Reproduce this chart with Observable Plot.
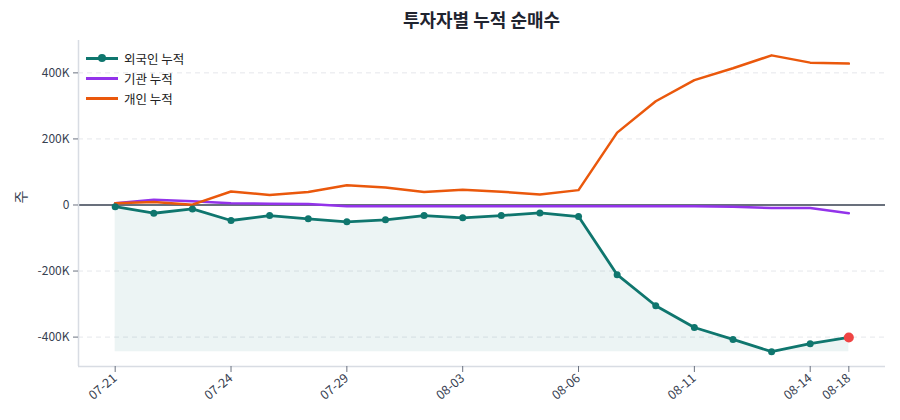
<!DOCTYPE html>
<html><head><meta charset="utf-8">
<script src="https://cdn.jsdelivr.net/npm/d3@7"></script>
<script src="https://cdn.jsdelivr.net/npm/@observablehq/plot@0.6"></script>
<style>
body{margin:0;background:#fff;font-family:"Noto Sans CJK KR","Noto Sans",sans-serif;}
#wrap{position:relative;width:900px;height:420px;}
#title{position:absolute;left:78px;width:807px;top:6px;text-align:center;font-size:18px;font-weight:700;color:#1f2430;}
#chart{position:absolute;left:0;top:40px;}
#legend{position:absolute;left:86px;top:48px;font-size:12.5px;color:#222;}
.row{display:flex;align-items:center;height:20px;}
.sw{position:relative;width:32px;height:3px;margin-right:6px;}
.sw i{position:absolute;left:12px;top:-2.5px;width:8px;height:8px;border-radius:50%;}
</style></head>
<body><div id="wrap"><div id="title">투자자별 누적 순매수</div><div id="chart"></div><div id="legend"></div></div>
<script>
const dates = ["07-21","07-22","07-23","07-24","07-25","07-28","07-29","07-30","07-31","08-03","08-04","08-05","08-06","08-07","08-08","08-11","08-12","08-13","08-14","08-18"];
const foreign = [-5,-25,-12,-47,-32,-42,-51,-45,-32,-39,-32,-24,-35,-211,-305,-371,-407,-444,-420,-401];
const institution = [5,16,11,5,4,3,-4,-4,-4,-4,-4,-4,-4,-4,-4,-4,-5,-9,-9,-25];
const individual = [5,9,1,41,30,39,60,53,39,46,40,32,45,219,314,378,414,453,431,428];
const tickIdx = [0,3,6,9,12,15,18,19];
const seriesNames = ["외국인 누적","기관 누적","개인 누적"];
const colors = ["#0f766e","#9333ea","#ea580c"];

const data = dates.map((d,i)=>({i, d, f: foreign[i]*1000, inst: institution[i]*1000, ind: individual[i]*1000}));
const minF = d3.min(data, d=>d.f);
const last = data[data.length-1];
const font = `"Noto Sans CJK KR","Noto Sans",sans-serif`;

const chart = Plot.plot({
  width: 900, height: 380,
  marginLeft: 78, marginRight: 15, marginTop: 0, marginBottom: 54,
  style: {fontFamily: font, fontSize: "12px", color: "#374151", background: "#fff"},
  x: {type: "linear", domain: [-0.95, 19.95]},
  y: {domain: [-489000, 498000]},
  marks: [
    Plot.ruleY([-400000,-200000,200000,400000], {stroke: "#e5e7eb", strokeDasharray: "5,4", strokeWidth: 1}),
    Plot.areaY(data, {x: "i", y1: minF, y2: "f", fill: "#0f766e", fillOpacity: 0.08, curve: "linear"}),
    Plot.ruleY([0], {stroke: "#374151", strokeWidth: 1.3}),
    Plot.lineY(data, {x: "i", y: "inst", stroke: colors[1], strokeWidth: 2.5}),
    Plot.lineY(data, {x: "i", y: "ind", stroke: colors[2], strokeWidth: 2.5}),
    Plot.lineY(data, {x: "i", y: "f", stroke: colors[0], strokeWidth: 2.8}),
    Plot.dot(data, {x: "i", y: "f", fill: colors[0], r: 3.5}),
    Plot.dot([last], {x: "i", y: "f", fill: "#ef4444", r: 5}),
    Plot.ruleX([-0.95], {stroke: "#d8dce3", strokeWidth: 1.5}),
    Plot.ruleY([-489000], {stroke: "#d8dce3", strokeWidth: 1.5}),
    Plot.axisX({ticks: tickIdx, tickFormat: i => dates[i], tickRotate: -40, tickSize: 6, tickPadding: 4, stroke: "#6b7280", label: null, fontSize: 12.5}),
    Plot.axisY({ticks: [-400000,-200000,0,200000,400000], tickFormat: d => d === 0 ? "0" : (d/1000) + "K", tickSize: 5, stroke: "#6b7280", label: null, fontSize: 12}),
    Plot.text(["주"], {frameAnchor: "left", dx: -57, rotate: -90, fontSize: 14, fill: "#374151"})
  ]
});
document.getElementById("chart").appendChild(chart);

const lg = document.getElementById("legend");
seriesNames.forEach((n,k)=>{
  const row = document.createElement("div"); row.className="row";
  const sw = document.createElement("div"); sw.className="sw"; sw.style.background = colors[k];
  if (k===0){ const dot=document.createElement("i"); dot.style.background=colors[k]; sw.appendChild(dot); }
  const t = document.createElement("span"); t.textContent = n;
  row.appendChild(sw); row.appendChild(t); lg.appendChild(row);
});
</script></body></html>
